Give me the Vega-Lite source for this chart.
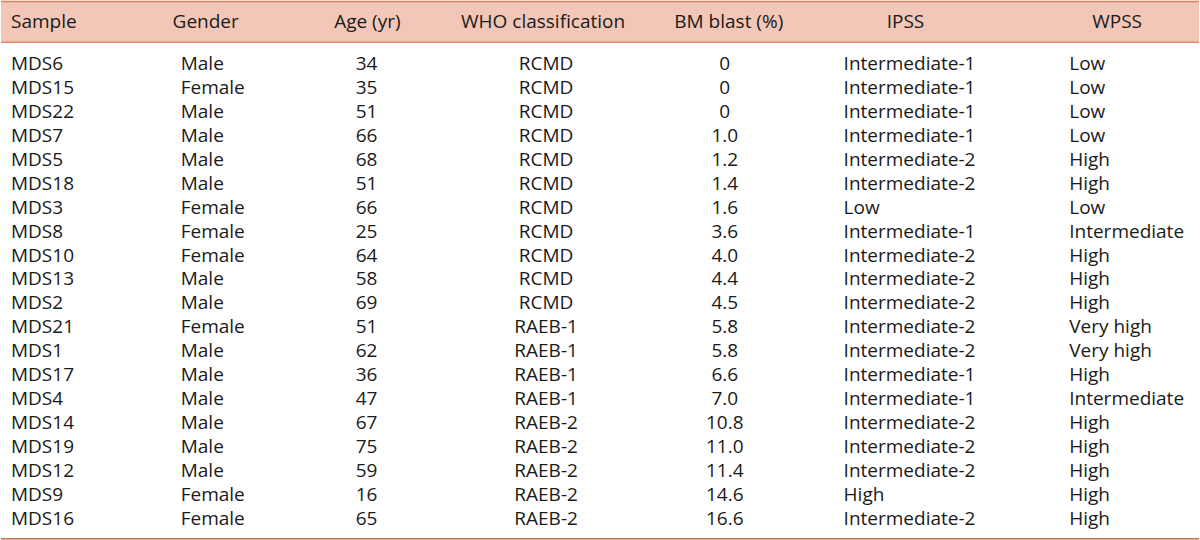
{
  "$schema": "https://vega.github.io/schema/vega-lite/v6.json",
  "width": 1200,
  "height": 540,
  "autosize": {"type": "fit", "contains": "padding"},
  "padding": 0,
  "background": "white",
  "config": {"view": {"stroke": null}, "text": {"font": "Open Sans", "fontSize": 19, "fontWeight": "normal", "color": "#1a1a1a", "baseline": "middle"}},
  "datasets": {
    "rows": [
      {"n": 1, "Sample": "MDS6", "Gender": "Male", "Age": 34, "WHO": "RCMD", "Blast": "0", "IPSS": "Intermediate-1", "WPSS": "Low"},
      {"n": 2, "Sample": "MDS15", "Gender": "Female", "Age": 35, "WHO": "RCMD", "Blast": "0", "IPSS": "Intermediate-1", "WPSS": "Low"},
      {"n": 3, "Sample": "MDS22", "Gender": "Male", "Age": 51, "WHO": "RCMD", "Blast": "0", "IPSS": "Intermediate-1", "WPSS": "Low"},
      {"n": 4, "Sample": "MDS7", "Gender": "Male", "Age": 66, "WHO": "RCMD", "Blast": "1.0", "IPSS": "Intermediate-1", "WPSS": "Low"},
      {"n": 5, "Sample": "MDS5", "Gender": "Male", "Age": 68, "WHO": "RCMD", "Blast": "1.2", "IPSS": "Intermediate-2", "WPSS": "High"},
      {"n": 6, "Sample": "MDS18", "Gender": "Male", "Age": 51, "WHO": "RCMD", "Blast": "1.4", "IPSS": "Intermediate-2", "WPSS": "High"},
      {"n": 7, "Sample": "MDS3", "Gender": "Female", "Age": 66, "WHO": "RCMD", "Blast": "1.6", "IPSS": "Low", "WPSS": "Low"},
      {"n": 8, "Sample": "MDS8", "Gender": "Female", "Age": 25, "WHO": "RCMD", "Blast": "3.6", "IPSS": "Intermediate-1", "WPSS": "Intermediate"},
      {"n": 9, "Sample": "MDS10", "Gender": "Female", "Age": 64, "WHO": "RCMD", "Blast": "4.0", "IPSS": "Intermediate-2", "WPSS": "High"},
      {"n": 10, "Sample": "MDS13", "Gender": "Male", "Age": 58, "WHO": "RCMD", "Blast": "4.4", "IPSS": "Intermediate-2", "WPSS": "High"},
      {"n": 11, "Sample": "MDS2", "Gender": "Male", "Age": 69, "WHO": "RCMD", "Blast": "4.5", "IPSS": "Intermediate-2", "WPSS": "High"},
      {"n": 12, "Sample": "MDS21", "Gender": "Female", "Age": 51, "WHO": "RAEB-1", "Blast": "5.8", "IPSS": "Intermediate-2", "WPSS": "Very high"},
      {"n": 13, "Sample": "MDS1", "Gender": "Male", "Age": 62, "WHO": "RAEB-1", "Blast": "5.8", "IPSS": "Intermediate-2", "WPSS": "Very high"},
      {"n": 14, "Sample": "MDS17", "Gender": "Male", "Age": 36, "WHO": "RAEB-1", "Blast": "6.6", "IPSS": "Intermediate-1", "WPSS": "High"},
      {"n": 15, "Sample": "MDS4", "Gender": "Male", "Age": 47, "WHO": "RAEB-1", "Blast": "7.0", "IPSS": "Intermediate-1", "WPSS": "Intermediate"},
      {"n": 16, "Sample": "MDS14", "Gender": "Male", "Age": 67, "WHO": "RAEB-2", "Blast": "10.8", "IPSS": "Intermediate-2", "WPSS": "High"},
      {"n": 17, "Sample": "MDS19", "Gender": "Male", "Age": 75, "WHO": "RAEB-2", "Blast": "11.0", "IPSS": "Intermediate-2", "WPSS": "High"},
      {"n": 18, "Sample": "MDS12", "Gender": "Male", "Age": 59, "WHO": "RAEB-2", "Blast": "11.4", "IPSS": "Intermediate-2", "WPSS": "High"},
      {"n": 19, "Sample": "MDS9", "Gender": "Female", "Age": 16, "WHO": "RAEB-2", "Blast": "14.6", "IPSS": "High", "WPSS": "High"},
      {"n": 20, "Sample": "MDS16", "Gender": "Female", "Age": 65, "WHO": "RAEB-2", "Blast": "16.6", "IPSS": "Intermediate-2", "WPSS": "High"}
    ],
    "header": [
      {"Sample": "Sample", "Gender": "Gender", "Age": "Age (yr)", "WHO": "WHO classification", "Blast": "BM blast (%)", "IPSS": "IPSS", "WPSS": "WPSS"}
    ]
  },
  "layer": [
    {"data": {"name": "header"}, "mark": {"type": "rect", "color": "#f2c7b7"}, "encoding": {
      "x": {"datum": 0, "type": "quantitative", "scale": {"domain": [0, 1200], "nice": false, "zero": false}, "axis": null},
      "x2": {"datum": 1200},
      "y": {"datum": -1.625, "type": "quantitative", "scale": {"domain": [-1.625, 20.875], "reverse": true, "nice": false, "zero": false}, "axis": null},
      "y2": {"datum": 0.09}
    }},
    {"data": {"name": "header"}, "mark": {"type": "rule", "color": "#d9805f", "strokeWidth": 1.5}, "encoding": {"x": {"datum": 0, "type": "quantitative"}, "x2": {"datum": 1200}, "y": {"datum": -1.6, "type": "quantitative"}}},
    {"data": {"name": "header"}, "mark": {"type": "rule", "color": "#e08a70", "strokeWidth": 1.5}, "encoding": {"x": {"datum": 0, "type": "quantitative"}, "x2": {"datum": 1200}, "y": {"datum": 0.1, "type": "quantitative"}}},
    {"data": {"name": "header"}, "mark": {"type": "rule", "color": "#b8704a", "strokeWidth": 1.5}, "encoding": {"x": {"datum": 0, "type": "quantitative"}, "x2": {"datum": 1200}, "y": {"datum": 20.82, "type": "quantitative"}}},
    {"data": {"name": "header"}, "mark": {"type": "text", "align": "left"}, "encoding": {"x": {"datum": 10, "type": "quantitative"}, "y": {"datum": -0.75, "type": "quantitative"}, "text": {"field": "Sample"}}},
    {"data": {"name": "header"}, "mark": {"type": "text", "align": "center"}, "encoding": {"x": {"datum": 205, "type": "quantitative"}, "y": {"datum": -0.75, "type": "quantitative"}, "text": {"field": "Gender"}}},
    {"data": {"name": "header"}, "mark": {"type": "text", "align": "center"}, "encoding": {"x": {"datum": 367, "type": "quantitative"}, "y": {"datum": -0.75, "type": "quantitative"}, "text": {"field": "Age"}}},
    {"data": {"name": "header"}, "mark": {"type": "text", "align": "center"}, "encoding": {"x": {"datum": 543, "type": "quantitative"}, "y": {"datum": -0.75, "type": "quantitative"}, "text": {"field": "WHO"}}},
    {"data": {"name": "header"}, "mark": {"type": "text", "align": "center"}, "encoding": {"x": {"datum": 729, "type": "quantitative"}, "y": {"datum": -0.75, "type": "quantitative"}, "text": {"field": "Blast"}}},
    {"data": {"name": "header"}, "mark": {"type": "text", "align": "center"}, "encoding": {"x": {"datum": 906, "type": "quantitative"}, "y": {"datum": -0.75, "type": "quantitative"}, "text": {"field": "IPSS"}}},
    {"data": {"name": "header"}, "mark": {"type": "text", "align": "center"}, "encoding": {"x": {"datum": 1118, "type": "quantitative"}, "y": {"datum": -0.75, "type": "quantitative"}, "text": {"field": "WPSS"}}},
    {"data": {"name": "rows"}, "mark": {"type": "text", "align": "left"}, "encoding": {"x": {"datum": 10, "type": "quantitative"}, "y": {"field": "n", "type": "quantitative"}, "text": {"field": "Sample"}}},
    {"data": {"name": "rows"}, "mark": {"type": "text", "align": "left"}, "encoding": {"x": {"datum": 180, "type": "quantitative"}, "y": {"field": "n", "type": "quantitative"}, "text": {"field": "Gender"}}},
    {"data": {"name": "rows"}, "mark": {"type": "text", "align": "right"}, "encoding": {"x": {"datum": 377, "type": "quantitative"}, "y": {"field": "n", "type": "quantitative"}, "text": {"field": "Age"}}},
    {"data": {"name": "rows"}, "mark": {"type": "text", "align": "center"}, "encoding": {"x": {"datum": 546, "type": "quantitative"}, "y": {"field": "n", "type": "quantitative"}, "text": {"field": "WHO"}}},
    {"data": {"name": "rows"}, "mark": {"type": "text", "align": "center"}, "encoding": {"x": {"datum": 725, "type": "quantitative"}, "y": {"field": "n", "type": "quantitative"}, "text": {"field": "Blast"}}},
    {"data": {"name": "rows"}, "mark": {"type": "text", "align": "left"}, "encoding": {"x": {"datum": 844, "type": "quantitative"}, "y": {"field": "n", "type": "quantitative"}, "text": {"field": "IPSS"}}},
    {"data": {"name": "rows"}, "mark": {"type": "text", "align": "left"}, "encoding": {"x": {"datum": 1070, "type": "quantitative"}, "y": {"field": "n", "type": "quantitative"}, "text": {"field": "WPSS"}}}
  ]
}
